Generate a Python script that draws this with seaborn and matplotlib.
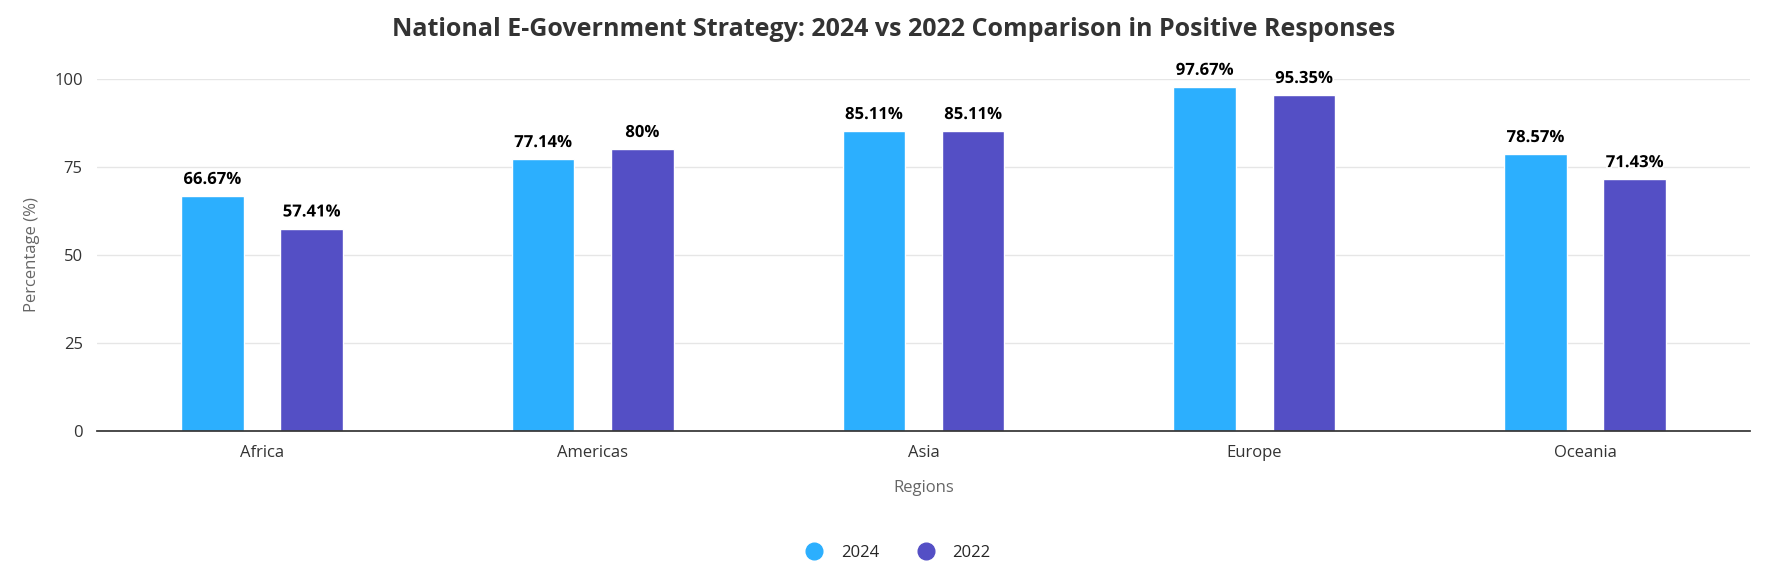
import matplotlib
matplotlib.use("Agg")
import matplotlib.pyplot as plt
import matplotlib.patheffects as pe
from matplotlib.lines import Line2D
import seaborn as sns
import pandas as pd

regions = ["Africa", "Americas", "Asia", "Europe", "Oceania"]
v2024 = [66.67, 77.14, 85.11, 97.67, 78.57]
v2022 = [57.41, 80, 85.11, 95.35, 71.43]
labels2024 = ["66.67%", "77.14%", "85.11%", "97.67%", "78.57%"]
labels2022 = ["57.41%", "80%", "85.11%", "95.35%", "71.43%"]
years = ["2024", "2022"]
colors = ["#2caffe", "#544fc5"]

df = pd.DataFrame({
    "Region": regions * 2,
    "Value": v2024 + v2022,
    "Year": [years[0]] * 5 + [years[1]] * 5,
})

sns.set_theme(style="white")
plt.rcParams['font.family'] = ['Open Sans', 'DejaVu Sans']
fig = plt.figure(figsize=(17.88, 5.76), dpi=100)
ax = fig.add_axes([0.054, 0.252, 0.925, 0.611])
sns.barplot(data=df, x="Region", y="Value", hue="Year", palette=colors,
            width=0.6, gap=0.37, ax=ax, legend=False, saturation=1)
ax.set_ylim(0, 100)
ax.set_yticks([0, 25, 50, 75, 100])
ax.yaxis.grid(True, color="#e6e6e6", linewidth=1)
ax.set_axisbelow(True)
for s in ["top", "right", "left"]:
    ax.spines[s].set_visible(False)
ax.spines["bottom"].set_color("#333333")
ax.tick_params(axis="both", labelsize=12, colors="#333333", length=0, pad=10)
ax.set_xlabel("Regions", fontsize=12, color="#666666", labelpad=14)
ax.set_ylabel("Percentage (%)", fontsize=12, color="#666666", labelpad=10)
ax.set_xlim(-0.5, 4.5)

for cont, labs in zip(ax.containers, [labels2024, labels2022]):
    ax.bar_label(cont, labels=labs, padding=6, fontsize=12, fontweight="bold",
                 color="black", clip_on=False,
                 path_effects=[pe.withStroke(linewidth=2.5, foreground="white")])
# Europe labels inside bars
fig.suptitle("National E-Government Strategy: 2024 vs 2022 Comparison in Positive Responses",
             fontsize=18, fontweight="bold", color="#333333", y=0.97)

handles = [Line2D([], [], marker="o", linestyle="", markersize=12, color=c) for c in colors]
fig.legend(handles, years, loc="lower center", ncol=2, frameon=False, fontsize=12,
           bbox_to_anchor=(0.5, 0.0), handletextpad=0.6, columnspacing=1.8)
fig.savefig("out.png", dpi=100)
